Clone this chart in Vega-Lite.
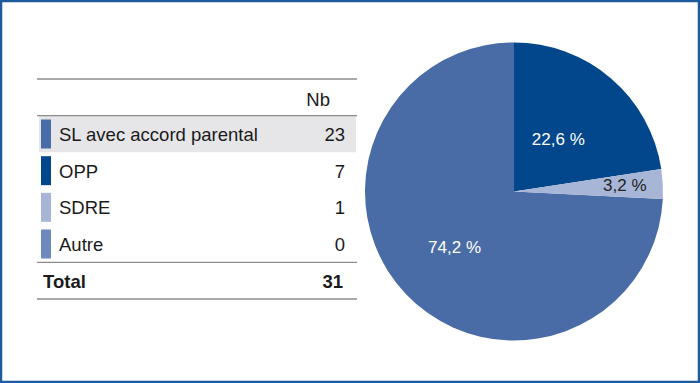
{
  "$schema": "https://vega.github.io/schema/vega-lite/v6.json",
  "width": 700,
  "height": 383,
  "autosize": {"type": "fit", "contains": "padding"},
  "padding": 1,
  "background": "white",
  "config": {
    "view": {"stroke": "#1d5b9c", "strokeWidth": 2.5},
    "font": "Liberation Sans",
    "text": {"font": "Liberation Sans"}
  },
  "datasets": {
    "statuts": [
      {"ligne": "SL avec accord parental", "nb": 23, "pct": 74.2},
      {"ligne": "OPP", "nb": 7, "pct": 22.6},
      {"ligne": "SDRE", "nb": 1, "pct": 3.2},
      {"ligne": "Autre", "nb": 0, "pct": 0}
    ],
    "entete": [{"ligne": "entete", "texte": "Nb"}],
    "total": [{"ligne": "Total", "nb": 31}],
    "filets_haut": [{"ligne": "entete"}, {"ligne": "SL avec accord parental"}, {"ligne": "Total"}],
    "filets_bas": [{"ligne": "Total"}]
  },
  "layer": [
    {
      "data": {"name": "statuts"},
      "transform": [{"filter": "datum.ligne == 'SL avec accord parental'"}],
      "mark": {"type": "rect", "x": 38, "x2": 355, "color": "#e6e6e8"},
      "encoding": {
        "y": {"field": "ligne", "type": "nominal", "axis": null,
              "scale": {"domain": ["entete", "SL avec accord parental", "OPP", "SDRE", "Autre", "Total"], "range": [78, 298], "paddingInner": 0, "paddingOuter": 0}}
      }
    },
    {
      "data": {"name": "filets_haut"},
      "mark": {"type": "rule", "x": 36, "x2": 356, "color": "#8c8c8c", "strokeWidth": 1.3},
      "encoding": {
        "y": {"field": "ligne", "type": "nominal", "bandPosition": 0, "axis": null,
              "scale": {"domain": ["entete", "SL avec accord parental", "OPP", "SDRE", "Autre", "Total"], "range": [78, 298], "paddingInner": 0, "paddingOuter": 0}}
      }
    },
    {
      "data": {"name": "filets_bas"},
      "mark": {"type": "rule", "x": 36, "x2": 356, "color": "#8c8c8c", "strokeWidth": 1.3},
      "encoding": {
        "y": {"field": "ligne", "type": "nominal", "bandPosition": 1, "axis": null,
              "scale": {"domain": ["entete", "SL avec accord parental", "OPP", "SDRE", "Autre", "Total"], "range": [78, 298], "paddingInner": 0, "paddingOuter": 0}}
      }
    },
    {
      "data": {"name": "statuts"},
      "mark": {"type": "tick", "orient": "vertical", "x": 45, "size": 29, "thickness": 10, "opacity": 1},
      "encoding": {
        "y": {"field": "ligne", "type": "nominal", "axis": null,
              "scale": {"domain": ["entete", "SL avec accord parental", "OPP", "SDRE", "Autre", "Total"], "range": [78, 298], "paddingInner": 0, "paddingOuter": 0}},
        "color": {"field": "ligne", "type": "nominal", "legend": null,
                  "scale": {"domain": ["SL avec accord parental", "OPP", "SDRE", "Autre"], "range": ["#4a6ca6", "#02478b", "#a7b5d6", "#6e89bc"]}}
      }
    },
    {
      "data": {"name": "statuts"},
      "mark": {"type": "text", "x": 58, "dy": 1, "align": "left", "baseline": "middle", "fontSize": 18.5, "color": "#1a1a1a"},
      "encoding": {
        "y": {"field": "ligne", "type": "nominal", "axis": null,
              "scale": {"domain": ["entete", "SL avec accord parental", "OPP", "SDRE", "Autre", "Total"], "range": [78, 298], "paddingInner": 0, "paddingOuter": 0}},
        "text": {"field": "ligne"}
      }
    },
    {
      "data": {"name": "statuts"},
      "mark": {"type": "text", "x": 344, "dy": 1, "align": "right", "baseline": "middle", "fontSize": 18.5, "color": "#1a1a1a"},
      "encoding": {
        "y": {"field": "ligne", "type": "nominal", "axis": null,
              "scale": {"domain": ["entete", "SL avec accord parental", "OPP", "SDRE", "Autre", "Total"], "range": [78, 298], "paddingInner": 0, "paddingOuter": 0}},
        "text": {"field": "nb", "type": "quantitative"}
      }
    },
    {
      "data": {"name": "entete"},
      "mark": {"type": "text", "x": 329, "dy": 3, "align": "right", "baseline": "middle", "fontSize": 18.5, "color": "#1a1a1a"},
      "encoding": {
        "y": {"field": "ligne", "type": "nominal", "axis": null,
              "scale": {"domain": ["entete", "SL avec accord parental", "OPP", "SDRE", "Autre", "Total"], "range": [78, 298], "paddingInner": 0, "paddingOuter": 0}},
        "text": {"field": "texte"}
      }
    },
    {
      "data": {"name": "total"},
      "mark": {"type": "text", "x": 42, "dy": 1, "align": "left", "baseline": "middle", "fontSize": 18.5, "fontWeight": "bold", "color": "#1a1a1a"},
      "encoding": {
        "y": {"field": "ligne", "type": "nominal", "axis": null,
              "scale": {"domain": ["entete", "SL avec accord parental", "OPP", "SDRE", "Autre", "Total"], "range": [78, 298], "paddingInner": 0, "paddingOuter": 0}},
        "text": {"field": "ligne"}
      }
    },
    {
      "data": {"name": "total"},
      "mark": {"type": "text", "x": 342, "dy": 1, "align": "right", "baseline": "middle", "fontSize": 18.5, "fontWeight": "bold", "color": "#1a1a1a"},
      "encoding": {
        "y": {"field": "ligne", "type": "nominal", "axis": null,
              "scale": {"domain": ["entete", "SL avec accord parental", "OPP", "SDRE", "Autre", "Total"], "range": [78, 298], "paddingInner": 0, "paddingOuter": 0}},
        "text": {"field": "nb", "type": "quantitative"}
      }
    },
    {
      "data": {"name": "statuts"},
      "mark": {"type": "arc", "outerRadius": 149, "x": {"expr": "width - 185"}, "y": {"expr": "height / 2"}},
      "encoding": {
        "theta": {"field": "nb", "type": "quantitative", "stack": true},
        "order": {"field": "ligne", "type": "ordinal", "sort": "ascending"},
        "color": {"field": "ligne", "type": "nominal", "legend": null,
                  "scale": {"domain": ["SL avec accord parental", "OPP", "SDRE", "Autre"], "range": ["#4a6ca6", "#02478b", "#a7b5d6", "#6e89bc"]}}
      }
    },
    {
      "data": {"name": "statuts"},
      "transform": [{"calculate": "datum.ligne == 'OPP' ? replace(format(datum.pct, '.1f'), '.', ',') + ' %' : ''", "as": "etiq"}],
      "mark": {"type": "text", "radius": 68, "x": {"expr": "width - 185"}, "y": {"expr": "height / 2"}, "fontSize": 17, "color": "white", "align": "center", "baseline": "middle"},
      "encoding": {
        "theta": {"field": "nb", "type": "quantitative", "stack": true},
        "order": {"field": "ligne", "type": "ordinal", "sort": "ascending"},
        "detail": {"field": "ligne", "type": "nominal"},
        "text": {"field": "etiq"}
      }
    },
    {
      "data": {"name": "statuts"},
      "transform": [{"calculate": "datum.ligne == 'SL avec accord parental' ? replace(format(datum.pct, '.1f'), '.', ',') + ' %' : ''", "as": "etiq"}],
      "mark": {"type": "text", "radius": 82, "x": {"expr": "width - 185"}, "y": {"expr": "height / 2"}, "fontSize": 17, "color": "white", "align": "center", "baseline": "middle"},
      "encoding": {
        "theta": {"field": "nb", "type": "quantitative", "stack": true},
        "order": {"field": "ligne", "type": "ordinal", "sort": "ascending"},
        "detail": {"field": "ligne", "type": "nominal"},
        "text": {"field": "etiq"}
      }
    },
    {
      "data": {"name": "statuts"},
      "transform": [{"calculate": "datum.ligne == 'SDRE' ? replace(format(datum.pct, '.1f'), '.', ',') + ' %' : ''", "as": "etiq"}],
      "mark": {"type": "text", "radius": 111, "x": {"expr": "width - 185"}, "y": {"expr": "height / 2"}, "fontSize": 17, "color": "#222222", "align": "center", "baseline": "middle"},
      "encoding": {
        "theta": {"field": "nb", "type": "quantitative", "stack": true},
        "order": {"field": "ligne", "type": "ordinal", "sort": "ascending"},
        "detail": {"field": "ligne", "type": "nominal"},
        "text": {"field": "etiq"}
      }
    }
  ]
}
